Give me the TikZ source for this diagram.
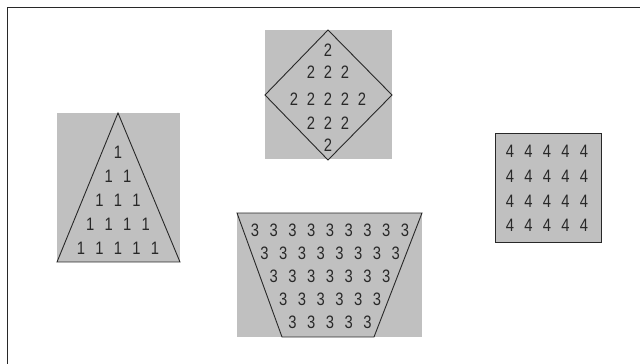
\documentclass[tikz,border=0pt]{standalone}
\usepackage{fontspec}
\setmainfont[FakeStretch=0.82]{Liberation Sans}
\usepackage{tikz}
\definecolor{panelgray}{RGB}{192,192,192}
\definecolor{edgegray}{RGB}{40,40,40}

\begin{document}
\begin{tikzpicture}[
    x=1pt, y=-1pt,
    panel/.style={fill=panelgray, draw=none},
    outline/.style={draw=edgegray, line width=0.9pt, line join=miter},
    digit/.style={inner sep=0pt, text=edgegray, font=\fontsize{18}{18}\selectfont}
]
\useasboundingbox (0,0) rectangle (640,364);

% frame
\draw[edgegray, line width=1.2pt] (640,7.5) -- (7.5,7.5) -- (7.5,364);

% triangle
\fill[panel] (57,113) rectangle (180,262);
\draw[outline] (118,113) -- (180,262) -- (57,262) -- cycle;
\foreach \row/\yy in {1/152,2/176,3/200,4/224,5/248} {
  \foreach \k in {1,...,\row}
    \node[digit] (t-\row-\k) at ({118+18.5*(\k-(\row+1)/2)},\yy) {1};
}

% diamond
\fill[panel] (265,30) rectangle (392,159);
\draw[outline] (328,30) -- (392,95) -- (328,160) -- (265,95) -- cycle;
\foreach \row/\n/\yy in {1/1/50,2/3/72,3/5/99,4/3/123,5/1/145} {
  \foreach \k in {1,...,\n}
    \node[digit] (d-\row-\k) at ({328+17*(\k-(\n+1)/2)},\yy) {2};
}

% trapezoid
\fill[panel] (237,213) rectangle (422,337);
\draw[outline] (237,213) -- (422,213) -- (374,337) -- (282,337) -- cycle;
\foreach \row/\n/\yy in {1/9/230,2/8/253,3/7/276,4/6/299,5/5/322} {
  \foreach \k in {1,...,\n}
    \node[digit] (z-\row-\k) at ({330+18.75*(\k-(\n+1)/2)},\yy) {3};
}

% square
\draw[outline, fill=panelgray] (495,133) rectangle (601,242);
\foreach \row/\yy in {1/151,2/176,3/201,4/225} {
  \foreach \k in {1,...,5}
    \node[digit] (s-\row-\k) at ({547+18.5*(\k-3)},\yy) {4};
}
\end{tikzpicture}
\end{document}
